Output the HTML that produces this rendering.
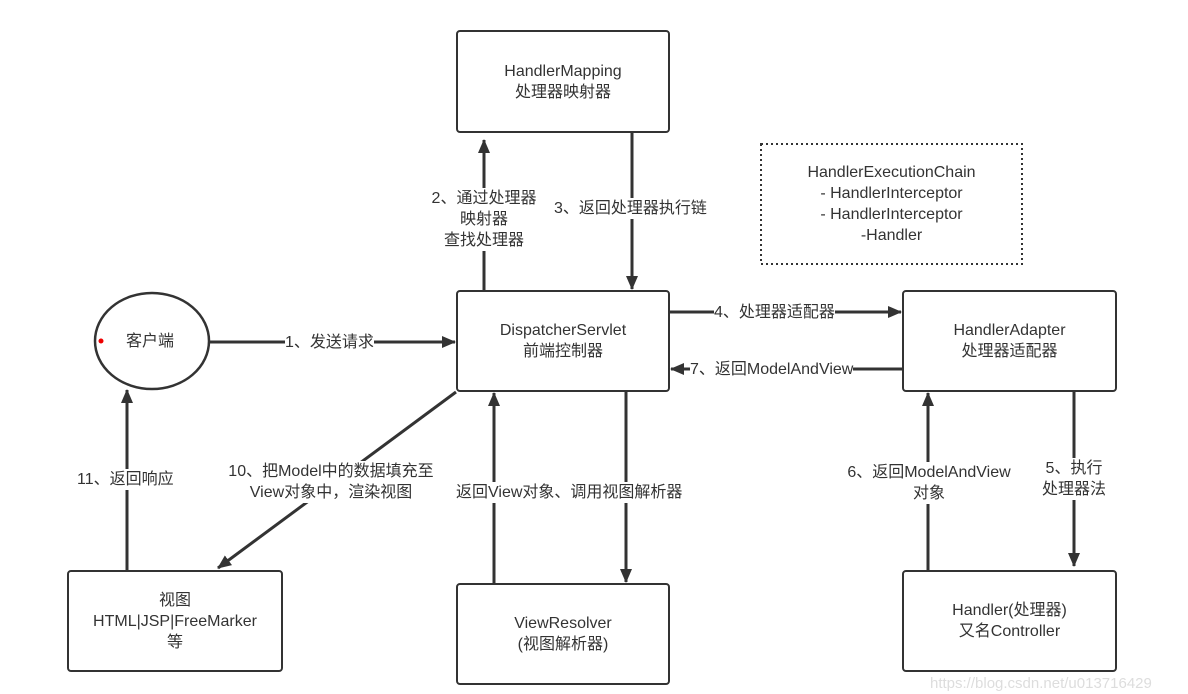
<!DOCTYPE html>
<html><head><meta charset="utf-8"><style>
body{margin:0;background:#fff;width:1188px;height:691px;overflow:hidden;position:relative;font-family:"Liberation Sans","Noto Sans CJK SC",sans-serif;color:#333}
.box{position:absolute;border:2.5px solid #333;border-radius:4px;box-sizing:border-box;display:flex;align-items:center;justify-content:center;text-align:center;font-size:16px;line-height:21px;background:#fff}
.lbl{position:absolute;background:#fff;font-size:16px;line-height:21px;text-align:center;white-space:nowrap}
svg{position:absolute;left:0;top:0}
</style></head><body>
<svg width="1188" height="691">
<defs><marker id="a" markerWidth="14" markerHeight="12" refX="13" refY="6" orient="auto" markerUnits="userSpaceOnUse"><path d="M0,0 L14,6 L0,12 Z" fill="#333"/></marker></defs>
<g stroke="#333" stroke-width="3" fill="none">
<line x1="484" y1="290" x2="484" y2="140" marker-end="url(#a)"/>
<line x1="632" y1="133" x2="632" y2="289" marker-end="url(#a)"/>
<line x1="210" y1="342" x2="455" y2="342" marker-end="url(#a)"/>
<line x1="670" y1="312" x2="901" y2="312" marker-end="url(#a)"/>
<line x1="902" y1="369" x2="671" y2="369" marker-end="url(#a)"/>
<line x1="456" y1="392" x2="218" y2="568" marker-end="url(#a)"/>
<line x1="127" y1="570" x2="127" y2="390" marker-end="url(#a)"/>
<line x1="494" y1="583" x2="494" y2="393" marker-end="url(#a)"/>
<line x1="626" y1="392" x2="626" y2="582" marker-end="url(#a)"/>
<line x1="928" y1="570" x2="928" y2="393" marker-end="url(#a)"/>
<line x1="1074" y1="392" x2="1074" y2="566" marker-end="url(#a)"/>
</g>
<ellipse cx="152" cy="341" rx="57" ry="48" fill="#fff" stroke="#333" stroke-width="2.5"/>
<circle cx="101" cy="341" r="2.5" fill="#e00"/>
<rect x="761" y="144" width="261" height="120" fill="none" stroke="#333" stroke-width="2" stroke-dasharray="2,3"/>
</svg>
<div class="lbl" style="left:126px;top:331px;background:none">客户端</div>
<div class="box" style="left:456px;top:30px;width:214px;height:103px">HandlerMapping<br>处理器映射器</div>
<div class="lbl" style="left:761px;top:162px;width:261px;background:none;line-height:21px">HandlerExecutionChain<br>- HandlerInterceptor<br>- HandlerInterceptor<br>-Handler</div>
<div class="box" style="left:456px;top:290px;width:214px;height:102px">DispatcherServlet<br>前端控制器</div>
<div class="box" style="left:902px;top:290px;width:215px;height:102px">HandlerAdapter<br>处理器适配器</div>
<div class="box" style="left:67px;top:570px;width:216px;height:102px">视图<br>HTML|JSP|FreeMarker<br>等</div>
<div class="box" style="left:456px;top:583px;width:214px;height:102px">ViewResolver<br>(视图解析器)</div>
<div class="box" style="left:902px;top:570px;width:215px;height:102px">Handler(处理器)<br>又名Controller</div>
<div class="lbl" style="left:422px;top:188px;width:124px">2、通过处理器<br>映射器<br>查找处理器</div>
<div class="lbl" style="left:554px;top:198px">3、返回处理器执行链</div>
<div class="lbl" style="left:285px;top:332px">1、发送请求</div>
<div class="lbl" style="left:714px;top:302px">4、处理器适配器</div>
<div class="lbl" style="left:690px;top:359px">7、返回ModelAndView</div>
<div class="lbl" style="left:222px;top:461px;width:218px">10、把Model中的数据填充至<br>View对象中，渲染视图</div>
<div class="lbl" style="left:77px;top:469px">11、返回响应</div>
<div class="lbl" style="left:456px;top:482px">返回View对象、调用视图解析器</div>
<div class="lbl" style="left:834px;top:462px;width:190px">6、返回ModelAndView<br>对象</div>
<div class="lbl" style="left:1034px;top:458px;width:80px">5、执行<br>处理器法</div>
<div class="lbl" style="left:930px;top:673px;color:#ddd;background:none;font-size:15px">https://blog.csdn.net/u013716429</div>
</body></html>
